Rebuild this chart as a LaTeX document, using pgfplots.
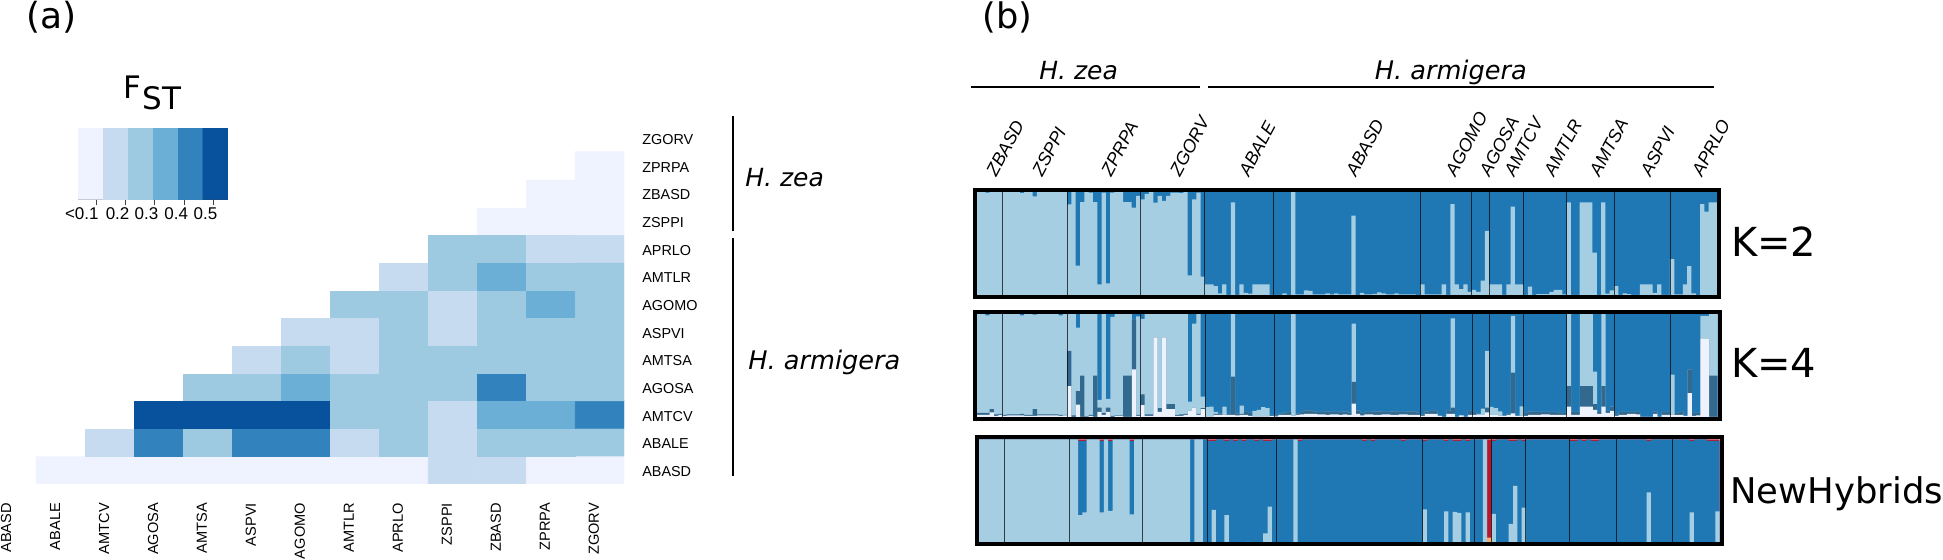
\documentclass[border=0pt]{standalone}
\usepackage{pgfplots}
\usepackage{pgfplotstable}
\pgfplotsset{compat=1.18}
\usepackage{fontspec}
\setmainfont{DejaVu Sans}
\newfontfamily\ls{Liberation Sans}
\definecolor{lt}{HTML}{A6CEE3}
\definecolor{bl}{HTML}{1F78B4}
\definecolor{st}{HTML}{33688F}
\definecolor{wh}{HTML}{EEF2FD}
\definecolor{rd}{HTML}{C0142A}
\definecolor{og}{HTML}{FDAE6B}
\pgfplotsset{
  fstmap/.style={colormap={fst}{rgb255=(255,255,255) rgb255=(239,243,255) rgb255=(198,219,239) rgb255=(158,202,225) rgb255=(107,174,214) rgb255=(49,130,189) rgb255=(8,81,156)},
    point meta min=0, point meta max=6},
  panel/.style={scale only axis, axis on top, ymin=-0.0194, ymax=1.0194, xmin=-0.464, xmax=172.464,
    axis line style={line width=2pt,black}, ytick=\empty,
    xtick={6,21,38,53,69,103,115,119,127,137,148,161}, xticklabels={},
    major tick length=0pt, xmajorgrids, grid style={line width=0.45pt,black,opacity=0.7}},
  layer/.style={const plot, draw=none, fill=#1}
}
% K=4: x, top of white, top of steel, top of light (cumulative from the bottom); a row holds until the next
\pgfplotstableread{
x w s l
0 .02 .04 1
2 .02 .04 .985
3 .045 .075 1
4 .01 .025 1
5 .02 .03 1
6 .01 .02 1
7 .015 .025 1
10 .015 .03 .985
11 .01 .02 1
13 .01 .075 .99
14 .015 .025 1
19 .01 .02 .985
20 .015 .02 1
21 .30 .64 1
22 0 .015 1
23 .12 .25 .865
24 0 .40 1
25 0 .005 1
26 .01 .02 1
27 0 .40 1
28 .05 .09 .165
29 .02 .04 1
30 .05 .09 .175
31 0 .01 .97
32 .01 .015 1
34 0 .40 1
36 .46 .94 .94
37 .01 .02 .975
38 .116 .22 .95
39 .01 .025 1
41 .77 .77 1
42 .05 .085 1
43 .77 .77 1
44 .075 .125 1
46 .01 .02 1
47 .01 .025 .995
48 .02 .03 1
49 .06 .06 .15
50 .09 .09 .905
51 .02 .03 .995
52 .077 .085 .197
53 .005 .005 .095
54 .005 .005 .10
55 .02 .03 .05
56 .02 .035 .035
57 .02 .02 .10
58 .02 .03 .03
59 .02 .39 1
60 .015 .035 .035
61 .02 .03 .11
62 .02 .05 .05
63 .01 .04 .04
64 .005 .005 .06
65 .005 .005 .07
66 .005 .005 .095
67 .005 .005 .085
68 .01 .02 .02
69 .005 .015 .015
70 .02 .03 .03
71 .02 .045 .045
72 .02 .05 .05
73 .01 .01 1
74 .02 .035 .035
75 .025 .05 .05
76 .03 .065 .065
78 .03 .055 .055
79 .025 .05 .05
81 .02 .055 .055
82 .025 .05 .05
84 .02 .05 .05
85 .025 .055 .055
86 .02 .045 .045
87 .13 .34 .905
88 .03 .065 .065
89 .015 .04 .04
90 .025 .05 .05
92 .02 .055 .055
94 .025 .05 .05
96 .02 .055 .055
98 .025 .05 .05
100 .02 .055 .055
102 .02 .04 .04
103 .01 .02 .02
104 .03 .055 .055
105 .03 .06 .06
107 .01 .015 .015
108 0 0 0
109 .03 .06 .06
110 .03 .09 .955
111 0 0 0
112 .015 .015 .015
113 0 0 0
114 .02 .06 .06
115 .02 .05 .05
116 .02 .02 .03
117 .02 .02 .08
118 .045 .09 .64
119 .02 .02 .097
120 .02 .02 .085
121 .01 .01 .055
122 .01 .015 .015
123 .02 .03 .03
124 .035 .43 .98
125 .01 .01 .01
126 .01 .01 .103
127 .01 .04 .04
128 .02 .055 .055
129 .02 .05 .05
131 .025 .05 .05
133 .02 .05 .05
135 .02 .04 .04
137 .10 .30 1
138 .02 .05 .05
140 .10 .30 1
143 .07 .125 .44
144 .03 .05 .05
145 .10 .30 1
146 .04 .06 .06
147 .06 .10 .10
148 .01 .02 .02
149 .02 .05 .05
151 .03 .05 .05
153 .025 .05 .05
154 0 0 0
157 .03 .055 .055
158 0 0 0
159 .02 .05 .05
161 .02 .02 .41
162 .02 .04 .04
163 .02 .05 .05
164 .01 .01 .01
165 .23 .46 .46
166 .01 .04 .04
167 .015 .04 .04
168 .76 .76 .98
169 .755 .755 .98
170 0 .40 1
172 0 .40 1
}\kfour
\begin{document}
\begin{tikzpicture}
\path[use as bounding box] (0pt,0pt) rectangle (971.5pt,-280pt);

% (a) heat map
\begin{axis}[fstmap, scale only axis, at={(0.07pt,-62pt)}, anchor=north west,
  width=312.05pt, height=179.8pt, xmin=-1.24, xmax=11.5, ymin=-0.5, ymax=12.5,
  axis line style={draw=none}, major tick length=0pt,
  xtick={-1.12,-.12,.88,1.88,2.88,3.88,4.88,5.88,6.88,7.88,8.88,9.88,10.88},
  xticklabels={ABASD,ABALE,AMTCV,AGOSA,AMTSA,ASPVI,AGOMO,AMTLR,APRLO,ZSPPI,ZBASD,ZPRPA,ZGORV},
  ytick={0,1,...,12},
  yticklabels={ABASD,ABALE,AMTCV,AGOSA,AMTSA,ASPVI,AGOMO,AMTLR,APRLO,ZSPPI,ZBASD,ZPRPA,ZGORV},
  yticklabel pos=right,
  xticklabel style={rotate=90,anchor=east,font=\ls\fontsize{7.3}{8}\selectfont,xshift=-6.2pt},
  yticklabel style={anchor=west,font=\ls\fontsize{7.2}{8}\selectfont,xshift=5.5pt,yshift=-.8pt},
]
\addplot[matrix plot*, mesh/cols=12, point meta=explicit] coordinates {
(0,0)[1](1,0)[1](2,0)[1](3,0)[1](4,0)[1](5,0)[1](6,0)[1](7,0)[1](8,0)[2](9,0)[2](10,0)[1](11,0)[1]

(0,1)[0](1,1)[2](2,1)[5](3,1)[3](4,1)[5](5,1)[5](6,1)[2](7,1)[3](8,1)[2](9,1)[3](10,1)[3](11,1)[3]

(0,2)[0](1,2)[0](2,2)[6](3,2)[6](4,2)[6](5,2)[6](6,2)[3](7,2)[3](8,2)[2](9,2)[4](10,2)[4](11,2)[5]

(0,3)[0](1,3)[0](2,3)[0](3,3)[3](4,3)[3](5,3)[4](6,3)[3](7,3)[3](8,3)[3](9,3)[5](10,3)[3](11,3)[3]

(0,4)[0](1,4)[0](2,4)[0](3,4)[0](4,4)[2](5,4)[3](6,4)[2](7,4)[3](8,4)[3](9,4)[3](10,4)[3](11,4)[3]

(0,5)[0](1,5)[0](2,5)[0](3,5)[0](4,5)[0](5,5)[2](6,5)[2](7,5)[3](8,5)[2](9,5)[3](10,5)[3](11,5)[3]

(0,6)[0](1,6)[0](2,6)[0](3,6)[0](4,6)[0](5,6)[0](6,6)[3](7,6)[3](8,6)[2](9,6)[3](10,6)[4](11,6)[3]

(0,7)[0](1,7)[0](2,7)[0](3,7)[0](4,7)[0](5,7)[0](6,7)[0](7,7)[2](8,7)[3](9,7)[4](10,7)[3](11,7)[3]

(0,8)[0](1,8)[0](2,8)[0](3,8)[0](4,8)[0](5,8)[0](6,8)[0](7,8)[0](8,8)[3](9,8)[3](10,8)[2](11,8)[2]

(0,9)[0](1,9)[0](2,9)[0](3,9)[0](4,9)[0](5,9)[0](6,9)[0](7,9)[0](8,9)[0](9,9)[1](10,9)[1](11,9)[1]

(0,10)[0](1,10)[0](2,10)[0](3,10)[0](4,10)[0](5,10)[0](6,10)[0](7,10)[0](8,10)[0](9,10)[0](10,10)[1](11,10)[1]

(0,11)[0](1,11)[0](2,11)[0](3,11)[0](4,11)[0](5,11)[0](6,11)[0](7,11)[0](8,11)[0](9,11)[0](10,11)[0](11,11)[1]
};
\end{axis}

% F_ST scale
\begin{axis}[fstmap, scale only axis, at={(39.1pt,-64.3pt)}, anchor=north west,
  width=74.85pt, height=35.35pt, xmin=-.5, xmax=5.5, ymin=-.5, ymax=1.5,
  hide y axis, axis x line*=bottom, x axis line style={-,black!75,line width=.5pt},
  xtick={.23,1.4,2.56,3.75,4.92}, xticklabels={<0.1\hspace*{6.6pt},0.2,0.3,0.4,0.5},
  xtick pos=bottom, tick align=outside, major tick length=3pt,
  xtick style={black!75,line width=.4pt},
  xticklabel style={font=\ls\fontsize{8.5}{9}\selectfont,xshift=-4pt,inner sep=1pt},
]
\addplot[matrix plot*, mesh/cols=6, point meta=explicit] coordinates {
(0,0)[1](1,0)[2](2,0)[3](3,0)[4](4,0)[5](5,0)[6]

(0,1)[1](1,1)[2](2,1)[3](3,1)[4](4,1)[5](5,1)[6]
};
\end{axis}

% K=2
\begin{axis}[panel, at={(487.35pt,-94.85pt)}, anchor=north west, width=372.3pt, height=53.65pt]
\addplot[layer=bl] coordinates {(0,1)(172,1)} \closedcycle;
\addplot[layer=lt] coordinates {(0,1)(2,.99)(3,1)(10,.985)(11,1)(13,.955)(14,1)(21,.877)(22,1)(23,.284)(24,.9)(25,1)(26,.99)(27,.9)(28,.103)(29,.99)(30,.113)(31,.99)(32,1)(34,.9)(36,.845)(37,.96)(38,.925)(39,.98)(40,1)(41,.895)(42,.96)(43,.91)(44,.96)(45,.99)(47,.985)(48,1)(49,.19)(50,.925)(51,.99)(52,.177)(53,.103)(55,.087)(56,.016)(57,.103)(58,0)(59,.897)(60,0)(61,.103)(62,.02)(63,.013)(64,.103)(68,0)(71,.016)(72,0)(73,1)(74,.005)(76,.045)(77,.04)(78,.005)(81,.016)(82,.005)(83,.016)(84,.005)(87,.768)(88,0)(89,.02)(90,.005)(92,.012)(93,.025)(94,.015)(95,.005)(97,.016)(98,.005)(102,0)(103,.103)(104,.005)(108,.103)(109,0)(110,.88)(111,.103)(112,.058)(113,.103)(114,.03)(115,.05)(116,.03)(117,.139)(118,.62)(119,.103)(122,0)(123,.103)(124,.855)(125,.103)(127,0)(128,.08)(129,0)(130,.008)(133,.03)(134,.05)(136,.005)(137,.897)(138,0)(140,.897)(143,.41)(144,0)(145,.897)(146,.013)(147,.045)(148,.087)(149,0)(150,.016)(151,.008)(152,0)(154,.103)(157,.02)(158,.103)(159,0)(161,.348)(162,.005)(164,.103)(165,.28)(166,.016)(167,0)(168,.88)(169,.806)(170,.897)(172,.897)} \closedcycle;
\end{axis}

% K=4
\begin{axis}[panel, at={(487.35pt,-155.85pt)}, anchor=north west, width=372.5pt, height=53.65pt]
\addplot[layer=bl] coordinates {(0,1)(172,1)} \closedcycle;
\addplot[layer=lt] table[x=x,y=l] {\kfour} \closedcycle;
\addplot[layer=st] table[x=x,y=s] {\kfour} \closedcycle;
\addplot[layer=wh] table[x=x,y=w] {\kfour} \closedcycle;
\end{axis}

% NewHybrids
\begin{axis}[panel, at={(488.5pt,-218.65pt)}, anchor=north west, width=372.35pt, height=53.5pt]
\addplot[layer=rd] coordinates {(0,1)(172,1)} \closedcycle;
\addplot[layer=bl] coordinates {(0,1)(23,.985)(25,1)(28,.985)(29,1)(30,.985)(31,1)(35,.985)(36,1)(53,.985)(55,1)(57,.985)(58,1)(59,.985)(60,1)(61,.985)(62,1)(64,.985)(65,1)(66,.985)(68,1)(74,.985)(75,1)(89,.985)(90,1)(91,.985)(92,1)(98,.985)(99,1)(103,.985)(104,1)(108,.985)(109,1)(110,.985)(112,1)(113,.985)(114,1)(118,0)(119,.985)(120,1)(123,.985)(125,1)(126,.985)(127,1)(137,.985)(139,1)(140,.985)(141,1)(142,.985)(144,1)(155,.985)(156,1)(165,.985)(166,1)(169,.985)(172,.985)} \closedcycle;
\addplot[layer=lt] coordinates {(0,1)(23,.265)(24,.29)(25,1)(28,.29)(29,1)(30,.305)(31,1)(35,.27)(36,1)(49,0)(50,1)(52,0)(54,.314)(55,0)(57,.265)(58,0)(62,.005)(63,0)(66,.087)(67,.346)(68,0)(73,1)(74,0)(103,.32)(104,0)(108,.30)(109,0)(110,.295)(111,.285)(112,0)(113,.29)(114,0)(117,1)(118,0)(119,.275)(120,0)(123,.18)(124,.547)(125,0)(126,.337)(127,0)(155,.485)(156,0)(165,.29)(166,0)(171,.30)(172,.30)} \closedcycle;
\addplot[layer=og] coordinates {(118,.045)(119,.045)} \closedcycle;
\end{axis}

% group bars and texts of (a)
\draw[line width=1.1pt] (366.35pt,-58.2pt) -- (366.35pt,-115.7pt);
\draw[line width=1.1pt] (366.35pt,-119.1pt) -- (366.35pt,-237.85pt);
\node[anchor=base west,inner sep=0pt,font=\fontsize{12.5}{14}\selectfont\itshape] at (372.5pt,-93.2pt) {H. zea};
\node[anchor=base west,inner sep=0pt,font=\fontsize{12.8}{14}\selectfont\itshape] at (374pt,-184.8pt) {H. armigera};
\node[anchor=base west,inner sep=0pt,font=\fontsize{18}{20}\selectfont] at (13pt,-14.5pt) {(a)};
\node[anchor=base west,inner sep=0pt,font=\fontsize{17.6}{20}\selectfont] at (491pt,-14.5pt) {(b)};
\node[anchor=base west,inner sep=0pt,font=\fontsize{15.5}{18}\selectfont] at (61.5pt,-49.5pt) {F};
\node[anchor=base west,inner sep=0pt,font=\fontsize{15.5}{18}\selectfont] at (71pt,-55pt) {ST};

% headers of (b)
\draw[line width=.8pt] (485.7pt,-43.5pt) -- (600pt,-43.5pt);
\draw[line width=.8pt] (604pt,-43.5pt) -- (857pt,-43.5pt);
\node[anchor=base west,inner sep=0pt,font=\fontsize{12.5}{14}\selectfont\itshape] at (519.5pt,-40pt) {H. zea};
\node[anchor=base west,inner sep=0pt,font=\fontsize{12.8}{14}\selectfont\itshape] at (687.2pt,-40pt) {H. armigera};
\foreach \xx/\tt in {495.4/ZBASD,518.3/ZSPPI,552.8/ZPRPA,587.2/ZGORV,621.7/ABALE,675.2/ABASD,725/AGOMO,742/AGOSA,754.3/AMTCV,774.2/AMTLR,797/AMTSA,822.5/ASPVI,848.2/APRLO}
  \node[anchor=west,rotate=62,inner sep=0pt,font=\ls\itshape\fontsize{9}{10}\selectfont] at (\xx pt,-87.5pt) {\tt};

\node[anchor=base west,inner sep=0pt,font=\fontsize{20}{24}\selectfont] at (865.4pt,-128.3pt) {K=2};
\node[anchor=base west,inner sep=0pt,font=\fontsize{20}{24}\selectfont] at (865.4pt,-189pt) {K=4};
\node[anchor=base west,inner sep=0pt,font=\fontsize{17.7}{20}\selectfont] at (865pt,-252pt) {NewHybrids};
\end{tikzpicture}
\end{document}
